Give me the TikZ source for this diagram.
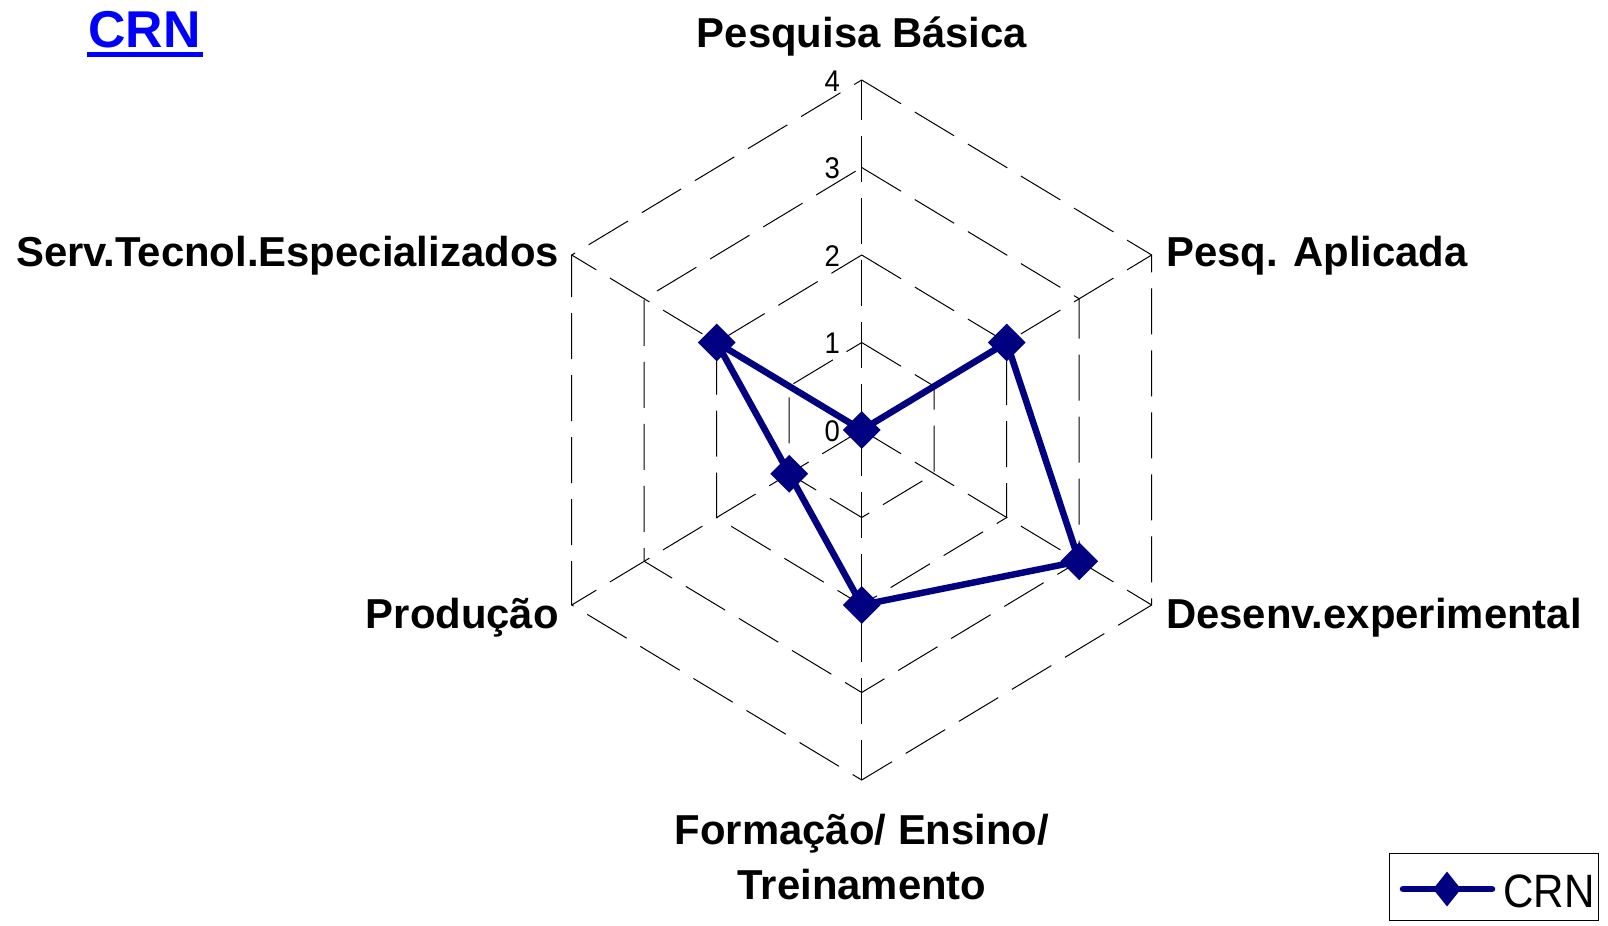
\documentclass[tikz,border=0pt]{standalone}
\usepackage{fontspec}
\setmainfont{Liberation Sans}
\usetikzlibrary{shapes.geometric}
\definecolor{crnnavy}{RGB}{0,0,128}
\definecolor{crnblue}{RGB}{0,0,255}
\begin{document}
\begin{tikzpicture}[x=1bp,y=-1bp,
  gridline/.style={black, line width=1bp, dash pattern=on 46bp off 16bp},
  lbl/.style={font=\fontsize{42}{42}\selectfont\bfseries, inner sep=0},
  ticklbl/.style={font=\fontsize{30}{30}\selectfont, inner sep=0, anchor=east},
  series/.style={crnnavy, line width=6.5bp, line join=round},
  marker/.style={diamond, fill=crnnavy, draw=none, minimum width=38bp, minimum height=38bp, inner sep=0}]
\useasboundingbox (0,0) rectangle (1608,925);
\coordinate (c) at (861.7,430);
\foreach \k/\cx/\sy in {0/0/1, 1/1/0.5, 2/1/-0.5, 3/0/-1, 4/-1/-0.5, 5/-1/0.5}{
  \foreach \r in {1,2,3,4}{
    \coordinate (g\r-\k) at ({861.7+\r*72.5*\cx},{430-\r*87.5*\sy});
  }
}
\foreach \r in {1,...,4}
  \draw[gridline] (g\r-0) -- (g\r-1) -- (g\r-2) -- (g\r-3) -- (g\r-4) -- (g\r-5) -- cycle;
\foreach \k in {0,...,5}
  \draw[gridline] (c) -- (g4-\k);
\foreach \r in {0,...,4}
  \node[ticklbl] (t\r) at (840,{431-\r*87.5}) {\scalebox{0.92}[1]{\r}};
\foreach \k/\cx/\sy/\v in {0/0/1/0, 1/1/0.5/2, 2/1/-0.5/3, 3/0/-1/2, 4/-1/-0.5/1, 5/-1/0.5/2}
  \coordinate (d\k) at ({861.7+\v*72.5*\cx},{430-\v*87.5*\sy});
\draw[series] (d0) -- (d1) -- (d2) -- (d3) -- (d4) -- (d5) -- cycle;
\foreach \k in {0,...,5}
  \node[marker] (m\k) at (d\k) {};
\node[lbl, anchor=base] (lA) at (862,47.5) {Pesquisa Básica};
\node[lbl, anchor=base west] (lB) at (1166,266) {Pesq. Aplicada};
\node[lbl, anchor=base west] (lC) at (1166,628) {Desenv.experimental};
\node[lbl, anchor=base] (lD1) at (862,844) {Formação/ Ensino/};
\node[lbl, anchor=base] (lD2) at (862,899) {Treinamento};
\node[lbl, anchor=base east] (lE) at (559,628) {Produção};
\node[lbl, anchor=base east] (lF) at (559,266) {Serv.Tecnol.Especializados};
\node[font=\fontsize{52}{52}\selectfont\bfseries, text=crnblue, anchor=base west, inner sep=0] (title) at (88,47) {CRN};
\draw[crnblue, line width=5.5bp] (87,54.5) -- (203,54.5);
\node[draw=black, line width=1bp, minimum width=209bp, minimum height=67bp, anchor=north west, inner sep=0] (legend) at (1389,853) {};
\coordinate (la) at (1403,889);
\coordinate (lb) at (1492,889);
\draw[series, line cap=round] (la) -- (lb);
\node[marker, minimum width=28bp, minimum height=35bp] (lm) at (1447,889) {};
\node[font=\fontsize{47}{47}\selectfont, anchor=base west, inner sep=0] (lt) at (1503,907) {\scalebox{0.9}[1]{CRN}};
\end{tikzpicture}
\end{document}
